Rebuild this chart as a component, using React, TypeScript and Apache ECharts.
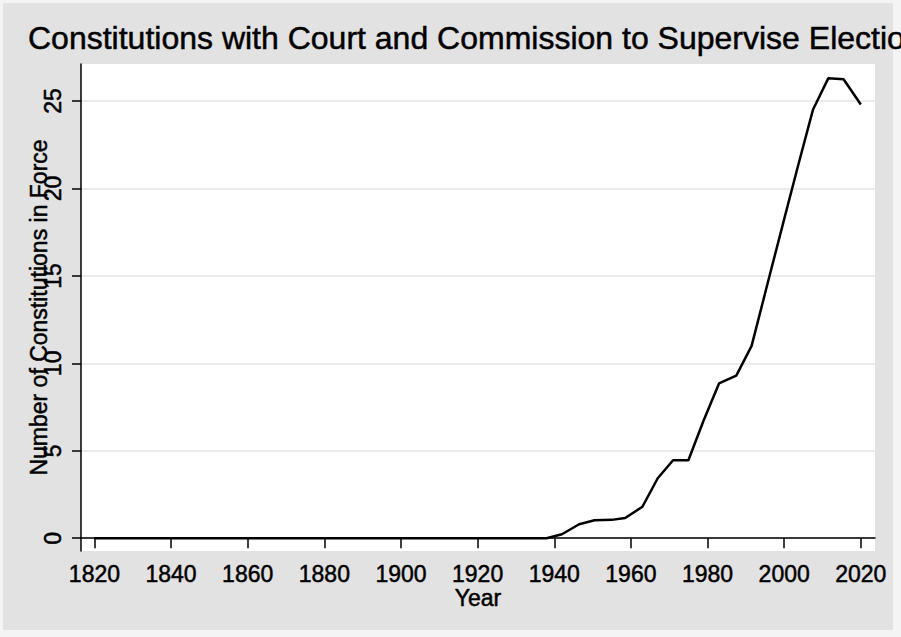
import React, { useEffect, useRef } from "react";
import * as echarts from "echarts";

const titleText = "Constitutions with Court and Commission to Supervise Elections";
const xName = "Year";
const yName = "Number of Constitutions in Force";
const years = [1820, 1938, 1942, 1946.5, 1950.5, 1955, 1958.5, 1963, 1967, 1971, 1975, 1979, 1983, 1987.5, 1991.5, 1996, 2000, 2003.5, 2007.5, 2011.5, 2015.5, 2020];
const counts = [0, 0, 0.23, 0.8, 1.03, 1.05, 1.16, 1.8, 3.43, 4.46, 4.46, 6.75, 8.85, 9.3, 11.0, 14.85, 18.25, 21.2, 24.5, 26.3, 26.25, 24.8];
const xTicks = [1820, 1840, 1860, 1880, 1900, 1920, 1940, 1960, 1980, 2000, 2020];
const yTicks = [0, 5, 10, 15, 20, 25];

const FONT = "'Liberation Sans', Arial, Helvetica, sans-serif";
const heavy = { textBorderColor: "#000", textBorderWidth: 0.5 };

export default function App() {
  const ref = useRef<HTMLDivElement>(null);
  useEffect(() => {
    if (!ref.current) return;
    const chart = echarts.init(ref.current, null, { renderer: "svg" });
    const data = years.map((y, i) => [y, counts[i]]);
    chart.setOption({
      animation: false,
      backgroundColor: "#f4f4f4",
      textStyle: { fontFamily: FONT },
      graphic: [
        {
          type: "rect",
          z: -100,
          shape: { x: 3, y: 3, width: 890, height: 627 },
          style: { fill: "#e2e2e2" },
          silent: true,
        },
      ],
      title: {
        text: titleText,
        left: 28,
        top: 22,
        padding: 0,
        textStyle: { fontFamily: FONT, fontSize: 32, fontWeight: "normal", color: "#000", ...heavy },
      },
      grid: {
        left: 81,
        right: 26,
        top: 64,
        bottom: 86,
        show: true,
        backgroundColor: "#ffffff",
        borderWidth: 0,
        containLabel: false,
      },
      xAxis: {
        type: "value",
        min: 1816.5,
        max: 2023.7,
        name: xName,
        nameLocation: "middle",
        nameGap: 35,
        nameMoveOverlap: false,
        nameTextStyle: { fontFamily: FONT, fontSize: 23, color: "#000", verticalAlign: "top", ...heavy },
        axisLine: { show: true, lineStyle: { color: "#000", width: 1.5 } },
        axisTick: { show: true, length: 10, customValues: xTicks, lineStyle: { color: "#000", width: 1.5 } },
        axisLabel: {
          customValues: xTicks,
          margin: 11,
          fontFamily: FONT,
          fontSize: 23,
          color: "#000",
          ...heavy,
          formatter: (v: number) => String(v),
        },
        splitLine: { show: false },
      },
      yAxis: {
        type: "value",
        min: -0.73,
        max: 27.12,
        name: yName,
        nameLocation: "middle",
        nameRotate: 90,
        nameGap: 31,
        nameMoveOverlap: false,
        nameTextStyle: { fontFamily: FONT, fontSize: 23, color: "#000", ...heavy },
        axisLine: { show: true, lineStyle: { color: "#000", width: 1.5 } },
        axisTick: { show: true, length: 9, customValues: yTicks, lineStyle: { color: "#000", width: 1.5 } },
        axisLabel: {
          customValues: yTicks,
          rotate: 90,
          margin: 17,
          fontFamily: FONT,
          fontSize: 23,
          color: "#000",
          ...heavy,
          formatter: (v: number) => String(v),
        },
        splitLine: { show: true, lineStyle: { color: "#e4e4e4", width: 1.5 } },
      },
      series: [
        {
          type: "line",
          data,
          showSymbol: false,
          symbol: "none",
          lineStyle: { color: "#000", width: 2.5 },
          silent: true,
        },
      ],
    });
    return () => chart.dispose();
  }, []);
  return <div ref={ref} style={{ position: "fixed", left: 0, top: 0, width: 901, height: 637 }} />;
}
